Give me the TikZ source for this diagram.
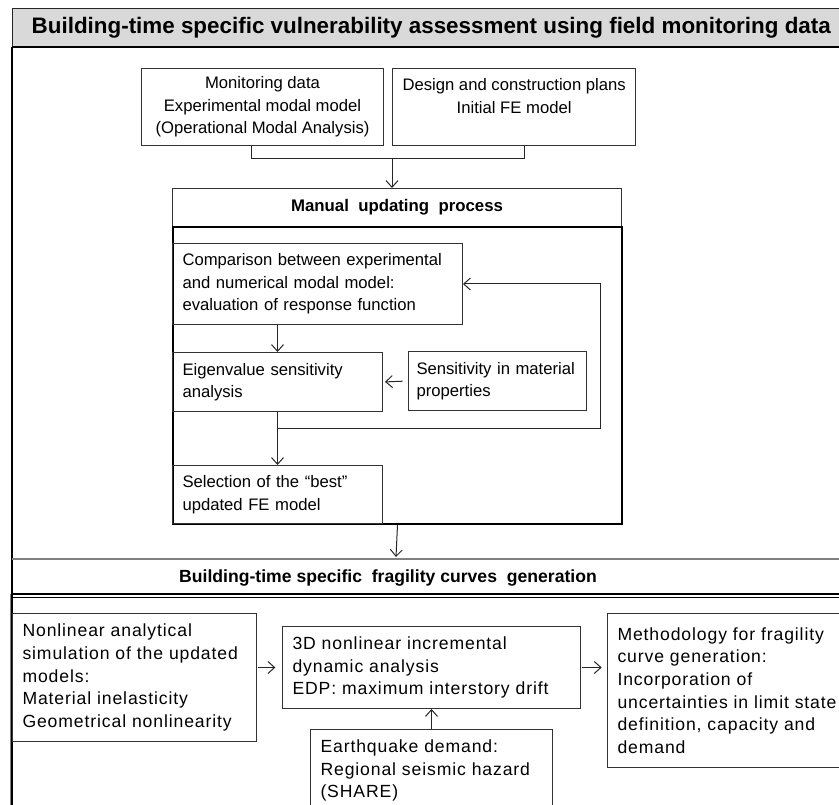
\documentclass[tikz,border=0pt]{standalone}
\usepackage{fontspec}
\setmainfont{Liberation Sans}
\newfontfamily\spacedsans[LetterSpace=5]{Liberation Sans}
\usetikzlibrary{arrows.meta,calc,positioning}

\begin{document}
\begin{tikzpicture}[x=0.75pt,y={(0pt,-0.75pt)},>={Straight Barb[length=5pt,width=9pt]},
  box/.style={draw=black!80,line width=0.75pt,anchor=north west,inner xsep=7.5pt,inner ysep=0pt,
    font=\fontsize{12.5}{16.9}\selectfont},
  lbox/.style={box,align=left},
  cbox/.style={box,align=center},
  lowbox/.style={lbox,font=\spacedsans\fontsize{13.2}{16.9}\selectfont},
  headtext/.style={font=\bfseries\fontsize{12.6}{15}\selectfont},
  conn/.style={->,black!85,line width=0.75pt}]
\useasboundingbox (0,0) rectangle (839,805);
% frame of the whole assessment
\node (title) [draw=black!85,fill=gray!30,anchor=north west,minimum width=628.5pt,minimum height=29.25pt,
  font=\bfseries\fontsize{16.8}{19}\selectfont] at (12,8)
  {Building-time specific vulnerability assessment using field monitoring data};
\draw[line width=1.5pt] (12,47) -- (850,47);
\draw[line width=1.5pt] (12,47) -- (12,812);
\draw[gray,line width=0.75pt] (10,594) -- (10,812);

% inputs
\node (mon) [cbox,minimum width=181.5pt,minimum height=57.75pt] at (141,68)
  {Monitoring data\\Experimental modal model\\(Operational Modal Analysis)};
\node (des) [cbox,minimum width=153.75pt,minimum height=57.75pt] at (392,68)
  {Design and construction plans\\Initial FE model\\\mbox{}};
\coordinate (brL) at (251,159);
\coordinate (brR) at (524,159);
\coordinate (brM) at (392,159);
\draw[black!85,line width=0.75pt] (brL |- mon.south) -- (brL) -- (brR) -- (brR |- des.south);

% manual updating
\node (mhead) [box,minimum width=336.75pt,minimum height=28.5pt,headtext] at (172,188)
  {Manual\ \ updating\ \ process};
\node (mbody) [draw,line width=1.5pt,anchor=north west,minimum width=336.75pt,minimum height=222.75pt] at (172,226) {};
\draw[conn] (brM) -- (brM |- mhead.north);

\node (comp) [lbox,minimum width=217.5pt,minimum height=60.75pt,text width=202.5pt] at (172,243)
  {Comparison between experimental\\and numerical modal model:\\evaluation of response function};
\node (eig) [lbox,minimum width=157.5pt,minimum height=44.25pt,text width=142.5pt] at (172,352)
  {Eigenvalue sensitivity\\analysis};
\node (sens) [lbox,inner xsep=6pt,minimum width=133.5pt,minimum height=44.25pt,text width=121.5pt] at (408,351)
  {Sensitivity in material\\properties};
\node (sel) [lbox,minimum width=157.5pt,minimum height=43.5pt,text width=142.5pt] at (172,465)
  {Selection of the “best”\\updated FE model};
\coordinate (loop) at (600,429);

\draw[conn] (eig.north |- comp.south) -- (eig.north);
\draw[conn,shorten <=4pt,shorten >=1.5pt] (sens.west) -- (eig.east);
\draw[conn] (eig.south) -- (sel.north);
\draw[conn] (eig.south |- loop) -- (loop) |- (comp.east);

% fragility curves
\coordinate (ftop) at (396,557);
\draw[conn] (mbody.south) -- (ftop);
\draw[gray,line width=1pt] (12,559) -- (850,559);
\node (fhead) [headtext,font=\bfseries\fontsize{13.2}{15}\selectfont] at (388,578)
  {Building-time specific\ \ fragility curves\ \ generation};
\draw[line width=1.5pt] (12,594) -- (850,594);
\draw[line width=0.75pt] (12,597.5) -- (850,597.5);

\node (nonlin) [lowbox,minimum width=183pt,minimum height=96pt,text width=168pt] at (12,613)
  {Nonlinear analytical\\simulation of the updated\\models:\\Material inelasticity\\Geometrical nonlinearity};
\node (dyn) [lowbox,minimum width=223.5pt,minimum height=61.5pt,text width=208.5pt] at (282,626)
  {3D nonlinear incremental\\dynamic analysis\\EDP: maximum interstory drift};
\node (meth) [lowbox,minimum width=180pt,minimum height=115.5pt,text width=165pt] at (607,613)
  {Methodology for fragility\\curve generation:\\Incorporation of\\uncertainties in limit state\\definition, capacity and\\demand};
\node (eq) [lowbox,minimum width=181.5pt,minimum height=61.5pt,text width=166.5pt] at (310,729)
  {Earthquake demand:\\Regional seismic hazard\\(SHARE)};

\draw[conn,shorten <=1pt,shorten >=5pt] (nonlin.east |- dyn.west) -- (dyn.west);
\draw[conn,shorten <=1pt,shorten >=4pt] (dyn.east) -- (dyn.east -| meth.west);
\draw[conn] (eq.north) -- (eq.north |- dyn.south);
\end{tikzpicture}
\end{document}
